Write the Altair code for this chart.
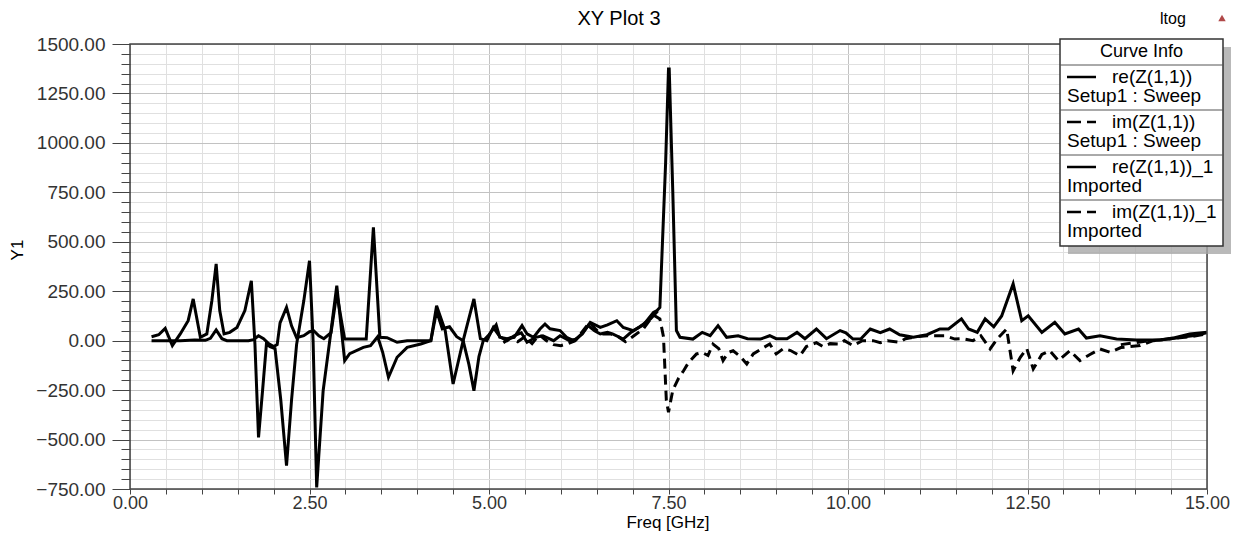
import altair as alt
import pandas as pd

# ---------------- data ----------------
series_names = ["re(Z(1,1))", "im(Z(1,1))", "re(Z(1,1))_1", "im(Z(1,1))_1"]
series_sources = ["Setup1 : Sweep", "Setup1 : Sweep", "Imported", "Imported"]

re_sweep_f = [0.30, 0.50, 0.70, 0.90, 1.05, 1.12, 1.20, 1.28, 1.35, 1.50, 1.65, 1.72, 1.79, 1.86,
              1.93, 2.00, 2.05, 2.09, 2.18, 2.25, 2.32, 2.42, 2.50, 2.56, 2.63, 2.70, 2.80, 2.88,
              2.95, 2.99, 3.10, 3.29, 3.39, 3.48, 3.58, 3.72, 3.86, 4.05, 4.19, 4.27, 4.35, 4.45,
              4.55, 4.64, 4.72, 4.79, 4.86, 4.92, 5.00, 5.10, 5.15, 5.25, 5.35, 5.46, 5.53, 5.62,
              5.71, 5.78, 5.85, 5.99, 6.08, 6.18, 6.30, 6.41, 6.55, 6.65, 6.78, 6.87, 7.01, 7.15,
              7.29, 7.34, 7.38, 7.46, 7.50, 7.51, 7.56, 7.61, 7.66, 7.84, 7.97, 8.08, 8.19, 8.31,
              8.47, 8.60, 8.78, 8.91, 9.00, 9.15, 9.29, 9.40, 9.56, 9.70, 9.89, 9.97, 10.07, 10.18,
              10.31, 10.45, 10.58, 10.72, 10.91, 11.10, 11.28, 11.40, 11.58, 11.68, 11.80, 11.91,
              12.03, 12.14, 12.30, 12.42, 12.51, 12.70, 12.88, 13.02, 13.21, 13.32, 13.51, 13.74,
              14.02, 14.34, 14.55, 14.76, 15.00]
re_sweep_v = [0, 0, 0, 3, 2, 12, 54, 10, 0, 0, 0, 5, 25, 10,
              -15, -30, -20, 90, 168, 75, 15, 25, 45, 50, 25, 10, 40, 240,
              90, 8, 8, 8, 573, 17, 15, -8, 0, 0, 0, 150, 60, 70,
              20, 0, -120, -253, -80, 0, 30, 80, 17, 10, 17, 76, 34, 17,
              59, 84, 60, 51, 17, 0, 34, 92, 67, 80, 101, 67, 51, 80,
              143, 152, 168, 900, 1373, 1373, 750, 51, 17, 8, 42, 25, 76, 17,
              25, 10, 8, 25, 10, 10, 42, 10, 59, 10, 51, 40, 8, 10,
              59, 40, 59, 30, 17, 30, 59, 59, 110, 59, 42, 110,
              70, 125, 287, 101, 126, 42, 93, 34, 59, 13, 25, 8,
              4, 4, 15, 34, 42]

im_sweep_f = [5.20, 5.30, 5.40, 5.50, 5.60, 5.70, 5.80, 5.90, 6.00, 6.10, 6.20, 6.31, 6.40, 6.48,
              6.55, 6.69, 6.80, 6.90, 7.00, 7.15, 7.29, 7.38, 7.43, 7.47, 7.50, 7.56, 7.64, 7.71,
              7.78, 7.89, 7.97, 8.05, 8.12, 8.20, 8.26, 8.33, 8.40, 8.50, 8.59, 8.68, 8.80, 8.91,
              9.00, 9.10, 9.20, 9.33, 9.42, 9.56, 9.65, 9.75, 9.89, 9.95, 10.07, 10.20, 10.35,
              10.45, 10.55, 10.72, 10.80, 10.95, 11.10, 11.28, 11.35, 11.49, 11.60, 11.74, 11.85,
              11.98, 12.08, 12.21, 12.30, 12.40, 12.49, 12.58, 12.70, 12.81, 12.93, 13.09, 13.23,
              13.37, 13.51, 13.65, 13.80, 14.07, 14.25, 14.50, 14.76, 15.00]
im_sweep_v = [-10, 15, -5, 20, -15, 30, 0, -20, -25, -15, 0, 50, 92, 60,
              34, 34, 20, -5, 20, 60, 130, 110, 20, -303, -362, -250, -190, -152,
              -110, -67, -60, -75, -17, -40, -101, -60, -51, -80, -118, -67, -40, -17,
              -67, -40, -50, -76, -30, -10, -30, -15, -17, 0, -25, 0, 0,
              -10, 0, -8, 10, 20, 25, 25, 25, 8, 10, 0, 25,
              -42, 10, 59, -152, -84, -40, -143, -70, -51, -101, -51, -101,
              -70, -42, -59, -35, -25, 0, 10, 20, 34]

re_imp_f = [0.30, 0.40, 0.49, 0.59, 0.70, 0.81, 0.88, 0.98, 1.07, 1.14, 1.20, 1.25, 1.31, 1.39,
            1.49, 1.60, 1.69, 1.74, 1.79, 1.85, 1.90, 1.95, 2.02, 2.10, 2.18, 2.25, 2.32, 2.42,
            2.50, 2.55, 2.60, 2.69, 2.80, 2.88, 2.99, 3.06, 3.25, 3.35, 3.45, 3.52, 3.60, 3.72,
            3.86, 4.05, 4.19, 4.27, 4.39, 4.50, 4.64, 4.79, 4.88, 4.97, 5.06, 5.15, 5.25, 5.35,
            5.45, 5.53, 5.65, 5.75, 5.90, 5.99, 6.12, 6.22, 6.31, 6.38, 6.47, 6.55, 6.65, 6.72,
            6.87, 6.97, 7.10, 7.25, 7.35]
re_imp_v = [20, 30, 62, -25, 34, 101, 211, 17, 34, 202, 388, 152, 34, 42,
            67, 152, 303, -17, -489, -236, -17, -30, -40, -300, -632, -300, -20, 200,
            404, 0, -742, -253, 50, 278, -101, -66, -34, -25, 20, -60, -185, -84,
            -34, -17, 0, 177, 51, -219, 0, 211, 10, 0, 67, 20, 0, 25,
            40, -8, 17, 25, 0, 25, 0, 8, 42, 76, 50, 34, 42, 34,
            8, 40, 70, 110, 150]

im_imp_f = [13.80, 14.00, 14.20, 14.40, 14.60, 14.80, 15.00]
im_imp_v = [-20, -10, 0, 5, 15, 25, 40]

# ---------------- layout ----------------
W, H = 1077, 445
FONT = "Liberation Sans"

x_scale = alt.Scale(domain=[0, 15], nice=False, zero=False)
y_scale = alt.Scale(domain=[-750, 1500], nice=False, zero=False)

x_vals = [i * 0.5 for i in range(31)]
y_vals = [-750 + 50 * i for i in range(46)]

x_axis = alt.Axis(
    values=x_vals,
    labelExpr="datum.value % 2.5 === 0 ? format(datum.value, '.2f') : ''",
    tickSize=5, tickColor="#444", tickWidth=1,
    domain=False,
    grid=True,
    gridColor={"condition": {"test": "datum.value % 2.5 === 0", "value": "#c2c2c2"}, "value": "#e0e0e0"},
    gridWidth=1,
    labelFont=FONT, labelFontSize=18, labelColor="#333", labelPadding=0,
    labelOverlap=False, labelFlush=False, labelBound=False,
    title=None,
)
y_axis = alt.Axis(
    values=y_vals,
    labelExpr="datum.value % 250 === 0 ? format(datum.value, '.2f') : ''",
    tickSize={"condition": {"test": "datum.value % 250 === 0", "value": 18}, "value": 9},
    tickColor="#444", tickWidth=1,
    domain=False,
    grid=True,
    gridColor={"condition": {"test": "datum.value % 250 === 0", "value": "#c2c2c2"}, "value": "#e0e0e0"},
    gridWidth=1,
    labelFont=FONT, labelFontSize=19, labelColor="#333", labelPadding=7,
    labelOverlap=False, labelFlush=False, labelBound=False,
    title=None,
)

one = pd.DataFrame({"k": [0]})


def line_layer(fs, vs, dashed):
    df = pd.DataFrame({"f": fs, "v": vs})
    kw = dict(color="black", strokeWidth=3, strokeJoin="miter", clip=True)
    if dashed:
        kw["strokeDash"] = [10, 6]
    return alt.Chart(df).mark_line(**kw).encode(
        x=alt.X("f:Q", scale=x_scale, axis=x_axis),
        y=alt.Y("v:Q", scale=y_scale, axis=y_axis),
    )


def txt(s, x, y, size, align="left", angle=0, color="black", baseline="middle"):
    kw = dict(text=s, font=FONT, fontSize=size, align=align, baseline=baseline, color=color)
    if angle:
        kw["angle"] = angle
    return alt.Chart(one).mark_text(**kw).encode(x=alt.value(x), y=alt.value(y))


def hrule(x1, x2, y, color="#333", width=1.0, dash=None):
    kw = dict(color=color, strokeWidth=width)
    if dash:
        kw["strokeDash"] = dash
    return alt.Chart(one).mark_rule(**kw).encode(x=alt.value(x1), x2=alt.value(x2), y=alt.value(y))


def box(x1, x2, y1, y2, **kw):
    return alt.Chart(one).mark_rect(**kw).encode(
        x=alt.value(x1), x2=alt.value(x2), y=alt.value(y1), y2=alt.value(y2))


layers = [
    line_layer(re_sweep_f, re_sweep_v, False),
    line_layer(im_sweep_f, im_sweep_v, True),
    line_layer(re_imp_f, re_imp_v, False),
    line_layer(im_imp_f, im_imp_v, True),
    # plot frame
    box(0, W, 0, H, filled=False, stroke="#444", strokeWidth=1.5),
    # titles
    txt("XY Plot 3", 489, -25, 20, align="center"),
    txt("Freq [GHz]", 538, 479, 17, align="center"),
    txt("Y1", -112, 206, 17, align="center", angle=270),
    txt("ltog", 1030, -25, 16),
]
# triangle icon at top right
layers.append(alt.Chart(one).mark_point(shape="triangle-up", filled=True, color="#b04848", size=55, opacity=1)
              .encode(x=alt.value(1092), y=alt.value(-26)))

# legend box ("Curve Info")
LX1, LX2, LY1, LY2 = 930, 1093, -5, 202
layers.append(box(LX1 + 8, LX2 + 8, LY1 + 8, LY2 + 8, color="#a8a8a8", opacity=0.8))
layers.append(box(LX1, LX2, LY1, LY2, fill="white", stroke="#333", strokeWidth=1.5))
layers.append(txt("Curve Info", (LX1 + LX2) / 2, 8, 18, align="center"))
row_top = 21
row_h = 45
for i, (nm, src) in enumerate(zip(series_names, series_sources)):
    top = row_top + row_h * i
    layers.append(hrule(LX1, LX2, top, color="#555", width=1))
    dash = [14, 6] if "im(" in nm else None
    layers.append(hrule(937, 966, top + 12, color="black", width=2.5, dash=dash))
    layers.append(txt(nm, 982, top + 12, 19))
    layers.append(txt(src, 937, top + 31, 19))

chart = alt.layer(*layers).properties(
    width=W, height=H,
    padding={"left": 122, "top": 36, "right": 24, "bottom": 42},
    autosize=alt.AutoSizeParams(type="none"),
).configure_view(stroke=None).configure(background="white")

chart.save("out.html", embed_options={"renderer": "svg", "actions": False})
